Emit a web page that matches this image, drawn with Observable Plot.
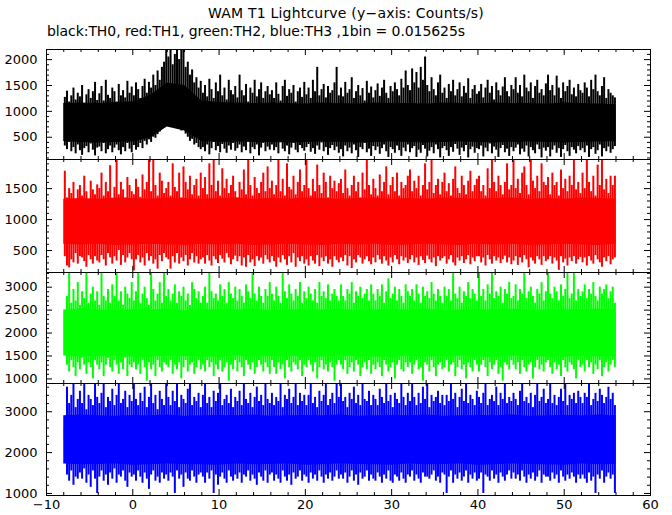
<!DOCTYPE html>
<html><head><meta charset="utf-8">
<script src="https://cdn.jsdelivr.net/npm/d3@7"></script>
<script src="https://cdn.jsdelivr.net/npm/@observablehq/plot@0.6"></script>
<style>
body{margin:0;background:#fff;}
#wrap{position:relative;width:672px;height:515px;overflow:hidden;font-family:"DejaVu Sans",sans-serif;background:#fff;}
#title{position:absolute;left:0;width:692px;top:6px;text-align:center;font-size:14px;line-height:14px;letter-spacing:0.2px;white-space:nowrap;}
#sub{position:absolute;left:47px;top:24px;font-size:14px;line-height:14px;letter-spacing:-0.08px;white-space:nowrap;}
</style></head>
<body><div id="wrap">
<div id="title">WAM T1 Lightcurve (y−axis: Counts/s)</div>
<div id="sub">black:TH0, red:TH1, green:TH2, blue:TH3 ,1bin = 0.015625s</div>
</div>
<script>
// ---- light-curve envelopes (counts/s), one max/min pair per 0.25 s from t = -8 s to 56 s ----
const channels = ["TH0", "TH1", "TH2", "TH3"];
const colors = ["#000000", "#ff0000", "#00ff00", "#0000ff"];

const th0Hi = [
1270,1390,1180,1300,1450,1220,1350,1280,1500,1150,1320,1420,1250,1380,1560,1210,
1340,1480,1200,1600,1310,1250,1450,1380,1180,1520,1300,1400,1260,1580,1350,1470,
1300,1550,1420,1250,1480,1620,1350,1560,1450,1700,1500,1780,1600,1850,1950,2195,
2050,2195,1900,2100,2195,2000,2195,2195,1850,1950,1700,1800,1550,1650,1450,1580,
1350,1500,1280,1620,1420,1250,1550,1380,1700,1300,1450,1220,1600,1400,1320,1480,
1260,1700,1400,1300,1520,1180,1450,1350,1600,1280,1420,1550,1250,1380,1480,1320,
1400,1250,1550,1330,1200,1480,1600,1290,1420,1350,1500,1180,1380,1450,1270,1560,
1320,1450,1250,1600,1380,1850,1300,1420,1520,1260,1480,1350,1400,1550,1850,1300,
1450,1280,1560,1350,1420,1650,1250,1380,1500,1300,1440,1200,1580,1350,1470,1260,
1400,1530,1290,1450,1600,1350,1250,1480,1380,1550,1420,1300,1620,1450,1780,1500,
1400,1820,1550,1750,1450,1850,1600,2050,1500,1380,1650,1420,1300,1550,1700,1350,
1450,1250,1520,1380,1600,1300,1420,1550,1280,1480,1350,1630,1250,1420,1500,1330,
1380,1520,1260,1450,1600,1350,1480,1220,1550,1400,1300,1470,1650,1380,1280,1500,
1420,1650,1350,1500,1280,1700,1450,1380,1550,1250,1480,1600,1350,1420,1300,1530,
1700,1400,1500,1300,1680,1450,1250,1550,1380,1480,1600,1320,1450,1280,1520,1400,
1350,1550,1450,1280,1600,1420,1700,1380,1300,1480,1650,1250,1420,1350,1300,1260];
const th0Lo = [
330,260,400,220,300,180,350,240,150,280,320,200,370,250,140,290,
310,220,380,180,260,330,200,290,350,240,160,300,220,380,270,200,
340,250,300,380,280,420,350,450,400,500,480,550,600,650,700,780,
820,850,760,800,700,750,620,680,560,500,420,460,350,380,300,260,
300,220,350,160,280,400,240,320,200,360,270,190,330,250,380,230,
280,350,200,310,240,420,180,300,260,350,140,290,380,220,310,250,
350,240,300,180,400,270,220,330,160,290,380,250,200,340,280,230,
300,360,210,280,170,330,250,390,220,300,150,280,340,240,310,190,
260,120,330,220,290,180,350,240,110,300,260,380,200,270,130,320,
240,310,170,280,350,220,110,300,260,190,330,240,130,290,220,350,
200,280,320,110,250,190,340,270,120,230,300,180,350,260,100,280,
320,240,130,300,210,360,270,150,290,220,340,100,260,310,190,280,
260,330,120,290,220,370,180,310,250,110,280,340,200,270,130,300,
220,290,350,160,270,210,330,120,300,240,180,350,260,100,290,230,
300,120,250,330,190,280,110,260,340,220,130,300,250,180,320,240,
280,200,330,110,260,300,170,240,350,120,280,220,310,190,260,320];

const th1Hi = [
1780,1350,1500,1420,1600,1300,1480,1550,1380,1700,1450,1320,1620,1480,1400,1560,
1500,1750,1380,1600,1450,1870,1330,1520,1970,1400,1600,1480,1350,1680,1550,1450,
1400,1650,1520,1360,1720,1480,1600,1970,1450,1970,1550,1380,1750,1620,1420,1500,
1600,1380,1900,1520,1450,1750,1350,1850,1600,1480,1700,1400,1550,1650,1380,1750,
1500,1680,1400,1900,1550,1970,1450,1620,1380,1820,1500,1650,1420,1550,1700,1450,
1350,1600,1480,1800,1400,1970,1550,1380,1680,1500,1420,1600,1750,1450,1850,1500,
1620,1400,1550,1970,1450,1650,1380,1900,1520,1480,1700,1400,1600,1800,1450,1550,
1970,1500,1380,1650,1450,1880,1550,1420,1750,1600,1350,1700,1500,1620,1450,1580,
1650,1420,1800,1500,1380,1550,1700,1450,1600,1350,1750,1480,1970,1550,1400,1650,
1500,1380,1720,1450,1600,1850,1400,1550,1680,1450,1750,1380,1600,1500,1550,1700,
1800,1450,1620,1500,1700,1380,1550,1900,1480,1600,1970,1420,1550,1650,1400,1600,
1750,1450,1580,1380,1650,1850,1500,1420,1700,1550,1400,1620,1780,1450,1550,1650,
1700,1450,1550,1380,1820,1500,1970,1600,1450,1700,1550,1400,1600,1900,1480,1550,
1970,1500,1650,1420,1750,1850,1550,1400,1970,1620,1500,1700,1450,1900,1600,1550,
1680,1400,1750,1550,1600,1380,1800,1500,1650,1450,1700,1550,1970,1480,1600,1420,
1750,1500,1970,1600,1450,1700,1380,1880,1550,1970,1480,1650,1420,1700,1550,1700];
const th1Lo = [
400,250,220,350,300,450,280,400,380,320,230,420,350,280,400,330,
300,420,350,250,450,380,280,400,330,500,260,420,300,380,450,350,
170,350,420,300,380,250,450,330,400,280,350,200,420,320,450,380,
350,200,400,300,450,280,380,320,420,250,350,450,300,400,280,350,
380,280,420,330,250,400,350,290,420,360,300,450,380,270,350,410,
320,400,250,380,230,420,300,350,240,400,330,380,280,420,350,300,
400,320,230,380,300,420,350,260,400,300,450,230,380,320,400,280,
350,250,400,330,280,420,240,380,320,400,280,350,230,400,340,300,
380,320,420,250,400,210,350,300,420,380,280,350,400,320,270,380,
300,420,350,280,400,330,250,380,300,420,350,270,400,330,380,290,
350,420,300,380,260,400,340,290,410,350,300,380,240,400,330,370,
400,280,350,420,300,250,380,330,400,290,350,420,270,380,320,400,
400,300,380,250,420,350,280,400,330,380,290,350,410,300,380,270,
330,400,260,380,300,420,350,220,380,330,280,400,350,260,400,320,
350,400,280,380,330,180,400,300,360,250,380,320,400,280,350,390,
300,380,250,400,330,280,420,350,300,230,380,320,400,270,350,380];

const th2Hi = [
2400,2800,3320,2650,2950,2700,3100,2600,2900,2750,3320,2650,2850,3000,2700,2900,
2600,3320,2800,2700,2950,2650,3050,2800,3320,2700,2900,2600,3000,2850,2750,3100,
2700,2900,3320,2650,2850,3000,2750,2600,3320,2950,2700,2850,3100,2650,3320,2800,
2950,2700,2850,3050,2650,2900,2800,3000,2700,2850,2600,3100,2950,2750,2900,2650,
2800,3000,2650,3320,2900,2750,2850,2700,3050,2800,2950,2650,3100,2850,2750,3000,
2700,2950,2800,2650,3050,2900,2750,3320,2850,2700,3000,2800,2650,2950,2800,3100,
2850,2700,3000,2800,2650,3320,2900,2750,3050,2850,2700,2950,2800,3100,2650,2900,
2750,3000,2850,2700,2950,2650,3100,2800,2900,2750,3050,2700,2850,2950,2800,2700,
3050,2800,2700,2950,2850,3100,2650,2900,2800,3000,2750,2850,2950,2700,3050,2850,
2700,2950,2800,3050,2650,2900,3180,2750,2850,3000,2700,2950,2800,2650,3050,2900,
2800,2950,2700,3050,2850,2650,3000,2800,2900,2750,3100,2850,2700,2950,2800,2650,
3000,2800,2950,2700,3320,2850,2750,3000,2650,2900,2800,3100,2750,2950,2850,2700,
3320,2800,2950,2700,3050,2850,3320,2750,2900,2800,3000,2650,2950,2850,3100,2750,
2800,3050,2700,2950,2850,3320,2750,2900,3000,2800,2650,2950,2850,3100,2700,2900,
3320,2850,2750,3000,2900,2700,3050,2800,2950,3320,2750,2850,3320,2700,2950,2800,
2900,3050,2750,2950,2850,3100,2800,2700,3000,2850,2950,3050,2750,2900,3000,2650];
const th2Lo = [
1600,1300,1150,1400,1250,1050,1350,1200,1450,1300,1100,1350,1250,1000,1400,1300,
1200,1350,1050,1300,1450,1250,1150,1400,1300,1100,1350,1200,1450,1050,1300,1250,
1350,1200,1300,1100,1400,1250,950,1350,1200,1300,1050,1400,1250,1150,1350,1300,
1250,1400,1100,1300,1200,1350,1000,1250,1400,1150,1300,1350,1100,1250,1400,1200,
1300,1150,1400,1250,1350,1050,1300,1200,1400,1150,1250,1350,950,1300,1200,1400,
1150,1350,1250,1050,1400,1300,1200,1350,1100,1250,1400,1300,1150,1350,1250,1100,
1400,1250,1100,1350,1200,1300,1000,1400,1250,1150,1350,1300,1200,1400,1050,1300,
1250,1400,1300,1150,1350,1000,1250,1400,1200,1300,1150,1350,1250,950,1300,1400,
1300,1200,1400,1100,1250,1350,1150,1400,1300,1050,1250,1350,1200,1400,1100,1300,
1200,1350,1250,1050,1400,1300,1150,1250,1350,1000,1300,1400,1200,1150,1350,1250,
1350,1100,1300,1400,1200,1250,950,1350,1300,1150,1400,1250,1050,1300,1350,1200,
1250,1400,1150,1300,1350,1050,1250,1400,1200,1300,1000,1350,1250,1150,1400,1300,
1150,1300,1400,1250,1050,1350,1200,1300,1400,1100,1250,950,1350,1300,1200,1400,
1300,1200,1350,1100,1400,1250,1150,1300,1350,1000,1250,1400,1200,1300,1150,1350,
1400,1250,1100,1350,1200,1300,1050,1400,1250,1150,1350,1300,1200,1000,1400,1250,
1300,1150,1400,1250,1350,1100,1300,1200,1400,1050,1250,1350,1150,1300,1400,1250];

const th3Hi = [
2600,3600,3200,3400,3690,3100,3300,3500,3200,3690,3050,3400,3300,3150,3690,3350,
3200,3450,3690,3100,3350,3250,3550,3150,3400,3690,3200,3300,3500,3100,3400,3250,
3690,3300,3150,3450,3250,3600,3100,3350,3690,3200,3400,3050,3500,3300,3150,3690,
3350,3150,3500,3250,3690,3100,3400,3300,3200,3550,3690,3150,3350,3250,3450,3100,
3400,3690,3200,3350,3100,3500,3250,3450,3690,3150,3300,3400,3200,3550,3100,3350,
3250,3500,3150,3690,3300,3200,3450,3100,3350,3600,3250,3400,3150,3690,3300,3200,
3450,3150,3350,3250,3690,3100,3400,3300,3550,3200,3350,3690,3150,3450,3250,3400,
3150,3400,3690,3200,3350,3100,3500,3250,3400,3690,3150,3300,3450,3200,3690,3350,
3690,3250,3350,3100,3450,3300,3600,3200,3400,3150,3690,3300,3250,3500,3150,3400,
3300,3150,3550,3350,3200,3690,3250,3400,3100,3450,3300,3200,3690,3350,3150,3450,
3250,3690,3350,3150,3450,3200,3600,3300,3690,3100,3400,3250,3350,3500,3200,3400,
3150,3400,3250,3690,3300,3450,3100,3350,3550,3250,3690,3200,3400,3300,3150,3500,
3350,3200,3450,3690,3150,3300,3400,3250,3600,3150,3450,3300,3690,3200,3350,3250,
3450,3300,3150,3500,3690,3250,3350,3200,3450,3100,3400,3690,3250,3350,3550,3200,
3300,3690,3200,3400,3150,3350,3550,3250,3690,3150,3400,3300,3450,3200,3500,3350,
3200,3450,3350,3690,3150,3300,3450,3250,3550,3400,3200,3350,3600,3300,3450,3150];
const th3Lo = [
2300,1450,1300,1550,1200,1400,1350,1500,1350,1600,1250,1450,1150,1550,1350,1000,
1400,1550,1300,1450,1200,1500,1350,1600,1250,1450,1400,1550,1300,1150,1500,1400,
1450,1300,1550,1400,1250,1500,1350,1100,1450,1550,1300,1400,1250,1500,1350,1450,
1300,1500,1400,1000,1550,1350,1450,1150,1500,1350,1300,1550,1400,1250,1450,1500,
1400,1250,1500,1350,1550,1000,1450,1200,1400,1500,1350,1250,1550,1400,1300,1450,
1350,1500,1250,1450,1400,1550,1300,1450,1350,1200,1500,1400,1300,1550,1250,1450,
1500,1300,1450,1350,1250,1550,1400,1300,1450,1200,1500,1350,1400,1550,1300,1450,
1400,1250,1500,1350,1450,1300,1550,1400,1250,1450,1350,1500,1300,1400,1550,1350,
1450,1350,1500,1250,1400,1550,1300,1450,1200,1500,1350,1400,1550,1300,1450,1350,
1300,1500,1400,1250,1450,1350,1550,1300,1250,1450,1400,1300,1500,1350,1250,1450,
1400,1550,1300,1450,1350,1250,1500,1400,1400,1350,1450,1550,1300,1400,1250,1500,
1450,1000,1400,1550,1250,1450,1350,1500,1300,1400,1550,1250,1450,1350,1500,1300,
1350,1500,1000,1450,1400,1300,1550,1350,1450,1250,1500,1400,1300,1450,1550,1350,
1500,1350,1450,1300,1550,1400,1250,1450,1350,1500,1300,1400,1550,1250,1450,1400,
1400,1300,1500,1350,1450,1250,1550,1400,1300,1450,1350,1500,1400,1250,1450,1350,
1450,1350,1250,1500,1300,1400,1000,1450,1350,1550,1250,1400,1500,1350,1450,1000];

// dense core of each light curve, every 2 s from t = -8 s
const th0CoreTop = [1150,1160,1150,1170,1180,1300,1550,1500,1200,1170,1160,1150,1160,1150,1140,1160,1150,1140,1160,1150,1150,1140,1160,1150,1140,1160,1150,1150,1140,1160,1150,1140,1130];
const th0CoreBot = [420,400,390,400,410,480,700,620,420,400,410,400,400,390,400,410,400,390,400,410,400,390,400,410,400,390,400,410,400,390,400,410,420];
const th1CoreTop = [1330,1340,1330,1350,1340,1330,1350,1340,1330,1340,1350,1330,1340,1330,1350,1340,1330,1340,1350,1330,1340,1330,1350,1340,1330,1340,1350,1330,1340,1330,1350,1340,1330];
const th1CoreBot = [600,590,600,580,590,600,590,580,600,590,600,580,590,600,590,580,600,590,600,580,590,600,590,580,600,590,600,580,590,600,590,580,600];
const th2CoreTop = [2500,2520,2500,2490,2510,2500,2520,2490,2500,2510,2500,2520,2490,2500,2510,2500,2520,2490,2500,2510,2500,2520,2490,2500,2510,2500,2520,2490,2500,2510,2500,2520,2500];
const th2CoreBot = [1500,1480,1490,1500,1470,1480,1500,1490,1480,1470,1500,1480,1490,1500,1470,1480,1500,1490,1480,1470,1500,1480,1490,1500,1470,1480,1500,1490,1480,1470,1500,1480,1490];
const th3CoreTop = [2900,2920,2900,2890,2910,2900,2920,2890,2900,2910,2900,2920,2890,2900,2910,2900,2920,2890,2900,2910,2900,2920,2890,2900,2910,2900,2920,2890,2900,2910,2900,2920,2900];
const th3CoreBot = [1720,1700,1710,1720,1690,1700,1720,1710,1700,1690,1720,1700,1710,1720,1690,1700,1720,1710,1700,1690,1720,1700,1710,1720,1690,1700,1720,1710,1700,1690,1720,1700,1710];

// axes
const xTickLabels = [-10, 0, 10, 20, 30, 40, 50, 60];
const xMinorTicks = d3.range(-10, 61, 2);
const yTickLabels = [[500, 1000, 1500, 2000], [500, 1000, 1500], [1000, 1500, 2000, 2500, 3000], [1000, 2000, 3000]];
const yMinorStep = [100, 100, 100, 200];
const yDomains = [[70, 2195], [145, 1970], [900, 3320], [950, 3690]];

const his = [th0Hi, th1Hi, th2Hi, th3Hi];
const los = [th0Lo, th1Lo, th2Lo, th3Lo];
const coreTops = [th0CoreTop, th1CoreTop, th2CoreTop, th3CoreTop];
const coreBots = [th0CoreBot, th1CoreBot, th2CoreBot, th3CoreBot];

// layout
const W = 672, ML = 46, MR = 22, PAD = 10;
const panelTop = [49, 159, 272, 383];
const panelH = [110, 113, 111, 112];
const ux = 70 / (W - ML - MR);
const wrap = document.getElementById("wrap");

channels.forEach((name, k) => {
  const [y0, y1] = yDomains[k];
  const H = panelH[k];
  const uy = (y1 - y0) / H;
  const last = k === 3;
  const spikes = his[k].map((h, i) => ({t: -7.875 + 0.25 * i, hi: h, lo: los[k][i]}));
  const core = coreTops[k].map((c, i) => ({t: -8 + 2 * i, top: c, bot: coreBots[k][i]}));
  const st = yMinorStep[k];
  const minorY = d3.range(Math.ceil(y0 / st) * st, y1, st).filter(v => !yTickLabels[k].includes(v));
  const majorY = yTickLabels[k];
  const xMinorOnly = xMinorTicks.filter(v => !xTickLabels.includes(v));
  const marks = [
    Plot.areaY(core, {x: "t", y1: "bot", y2: "top", fill: colors[k], clip: true}),
    Plot.ruleX(spikes, {x: "t", y1: "lo", y2: "hi", stroke: colors[k], strokeWidth: 2, clip: true}),
    Plot.ruleY(minorY, {x1: -10, x2: -10 + 3 * ux, stroke: "black"}),
    Plot.ruleY(minorY, {x1: 60 - 3 * ux, x2: 60, stroke: "black"}),
    Plot.ruleY(majorY, {x1: -10, x2: -10 + 6 * ux, stroke: "black"}),
    Plot.ruleY(majorY, {x1: 60 - 6 * ux, x2: 60, stroke: "black"}),
    Plot.ruleX(xMinorOnly, {y1: y0, y2: y0 + 3 * uy, stroke: "black"}),
    Plot.ruleX(xMinorOnly, {y1: y1 - 3 * uy, y2: y1, stroke: "black"}),
    Plot.ruleX(xTickLabels, {y1: y0, y2: y0 + 6 * uy, stroke: "black"}),
    Plot.ruleX(xTickLabels, {y1: y1 - 6 * uy, y2: y1, stroke: "black"}),
    Plot.frame({stroke: "black"}),
    Plot.axisY({ticks: majorY, tickSize: 0, tickPadding: 9, tickFormat: "d", label: null, fontSize: 13})
  ];
  if (last) marks.push(Plot.axisX({ticks: xTickLabels, tickSize: 0, tickPadding: 4, tickFormat: "d", label: null, fontSize: 13}));
  const svg = Plot.plot({
    width: W,
    height: H + PAD + (last ? 25 : PAD),
    marginLeft: ML, marginRight: MR, marginTop: PAD, marginBottom: last ? 25 : PAD,
    style: {background: "transparent", overflow: "visible", fontFamily: "DejaVu Sans, sans-serif", fontSize: "13px", color: "black"},
    x: {domain: [-10, 60], axis: last ? undefined : null},
    y: {domain: [y0, y1]},
    marks
  });
  svg.style.position = "absolute";
  svg.style.left = "0px";
  svg.style.top = (panelTop[k] - PAD) + "px";
  svg.setAttribute("aria-label", "Channel " + name);
  wrap.appendChild(svg);
});
</script>
</body></html>
